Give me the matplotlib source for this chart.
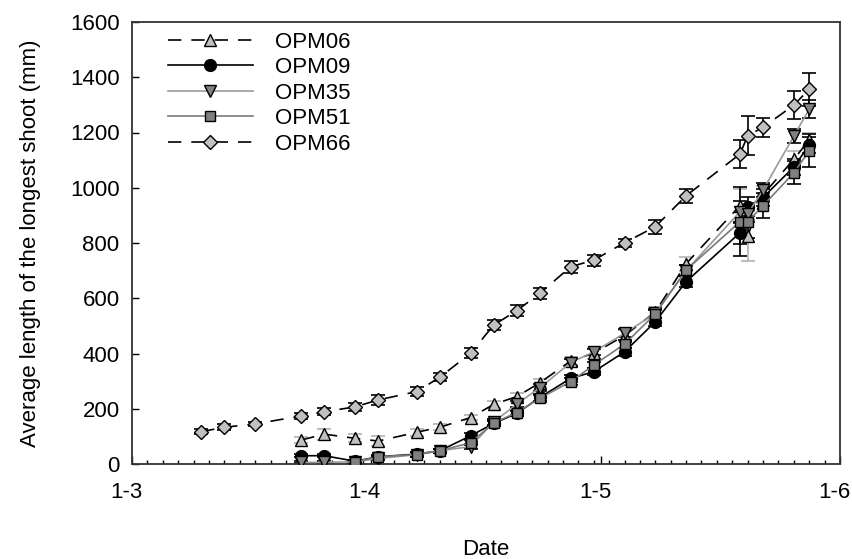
import numpy as np
import pandas as pd
import matplotlib
matplotlib.use("Agg")
import matplotlib.pyplot as plt
import matplotlib.dates as mdates
from matplotlib.transforms import ScaledTranslation
from matplotlib.ticker import FuncFormatter, FixedLocator, MultipleLocator

plt.rcParams["font.family"] = ["Liberation Sans", "DejaVu Sans"]

# 采样日期
dates66 = ["2010-03-10", "2010-03-13", "2010-03-17", "2010-03-23", "2010-03-26",
           "2010-03-30", "2010-04-02", "2010-04-07", "2010-04-10", "2010-04-14",
           "2010-04-17", "2010-04-20", "2010-04-23", "2010-04-27", "2010-04-30",
           "2010-05-04", "2010-05-08", "2010-05-12", "2010-05-19", "2010-05-20",
           "2010-05-22", "2010-05-26", "2010-05-28"]
dates = dates66[3:]

# 各品系平均长度 (mm) 和误差
opm06 = [87, 108, 93, 83, 115, 133, 168, 216, 244, 294, 373, 401, 465, 550, 725, 935, 825, 975, 1103, 1173]
opm06_err = [10, 20, 15, 18, 12, 10, 10, 12, 12, 15, 15, 20, 20, 20, 25, 60, 90, 30, 30, 25]
opm09 = [30, 30, 10, 26, 36, 48, 102, 147, 183, 241, 310, 334, 406, 515, 660, 837, 931, 965, 1075, 1155]
opm09_err = [5, 5, 4, 6, 8, 8, 12, 10, 10, 12, 12, 12, 15, 15, 20, 40, 35, 30, 30, 30]
opm35 = [6, 6, 8, 20, 34, 48, 63, 152, 217, 276, 367, 406, 473, 545, 700, 913, 905, 992, 1187, 1284]
opm35_err = [4, 4, 4, 6, 8, 8, 10, 10, 10, 12, 12, 12, 15, 15, 20, 40, 30, 25, 25, 33]
opm51 = [None, None, 8, 26, 34, 48, 77, 149, 186, 238, 298, 358, 434, 543, 702, 877, 877, 935, 1054, 1134]
opm51_err = [0, 0, 4, 6, 8, 8, 10, 10, 10, 12, 12, 12, 15, 15, 20, 125, 60, 45, 42, 60]
opm66 = [117, 133, 145, 174, 189, 207, 232, 262, 314, 401, 503, 555, 618, 714, 738,
         801, 859, 971, 1122, 1188, 1219, 1299, 1357]
opm66_err = [10, 10, 8, 12, 12, 15, 18, 15, 15, 18, 18, 20, 20, 22, 20, 15, 25, 25, 50, 70, 35, 50, 60]

x66 = pd.to_datetime(dates66)
x = pd.to_datetime(dates)

fig = plt.figure(figsize=(8.53, 5.59), dpi=100)
ax = fig.add_axes([132 / 853, 95 / 559, 708 / 853, 442 / 559])

series = [
    ("OPM06", x, opm06, opm06_err, "^", "#c0c0c0", "black", (0, (8, 6)), "#b0b0b0", 8.5),
    ("OPM09", x, opm09, opm09_err, "o", "black", "black", "-", "black", 8.5),
    ("OPM35", x, opm35, opm35_err, "v", "#808080", "#999999", "-", "black", 8.5),
    ("OPM51", x, opm51, opm51_err, "s", "#808080", "#7a7a7a", "-", "black", 7.5),
    ("OPM66", x66, opm66, opm66_err, "D", "#c0c0c0", "black", (0, (8, 6)), "black", 7),
]

handles = []
for name, xs, ys, err, mk, fc, lc, ls, ec, ms in series:
    ys = np.array([np.nan if v is None else v for v in ys], dtype=float)
    ok = ~np.isnan(ys)
    xs = xs[ok]
    ys = ys[ok]
    e = np.array(err, dtype=float)[ok]
    ax.errorbar(xs, ys, yerr=e, fmt="none", ecolor=ec, elinewidth=1.2, capsize=5, capthick=1.2, zorder=2)
    ln, = ax.plot(xs, ys, linestyle=ls, color=lc, linewidth=1.2, marker=mk, markersize=ms,
                  markerfacecolor=fc, markeredgecolor="black", markeredgewidth=1, label=name, zorder=3)
    handles.append(ln)

ax.set_xlim(pd.Timestamp("2010-03-01"), pd.Timestamp("2010-06-01"))
ax.set_ylim(0, 1600)
ax.yaxis.set_major_locator(MultipleLocator(200))
major = pd.to_datetime(["2010-03-01", "2010-04-01", "2010-05-01", "2010-06-01"])
ax.xaxis.set_major_locator(FixedLocator(mdates.date2num(major)))
x0 = mdates.date2num(pd.Timestamp("2010-03-01"))
ax.xaxis.set_minor_locator(FixedLocator(np.arange(x0, x0 + 92, 2)))
ax.xaxis.set_major_formatter(FuncFormatter(lambda v, p: "{}-{}".format(mdates.num2date(v).day, mdates.num2date(v).month)))

ax.tick_params(axis="x", which="major", direction="in", length=6, width=1, labelsize=16, pad=13)
ax.tick_params(axis="x", which="minor", direction="in", length=3, width=1)
ax.tick_params(axis="y", which="major", direction="in", length=5, width=1, labelsize=16, pad=9)
for s in ax.spines.values():
    s.set_color("#333333")
    s.set_linewidth(1.3)

# x刻度标签稍微左移
shift = ScaledTranslation(-6 / 100, 0, fig.dpi_scale_trans)
for t in ax.xaxis.get_major_ticks():
    t.label1.set_transform(t.label1.get_transform() + shift)

ax.set_xlabel("Date", fontsize=16, labelpad=26)
ax.set_ylabel("Average length of the longest shoot (mm)", fontsize=16, labelpad=21)

ax.legend(handles=handles, loc="upper left", bbox_to_anchor=(0.051, 0.978), frameon=False,
          fontsize=16, handlelength=3.8, handletextpad=1.0, labelspacing=0.2,
          borderpad=0, borderaxespad=0, numpoints=1)

fig.savefig("out.png", dpi=100)
